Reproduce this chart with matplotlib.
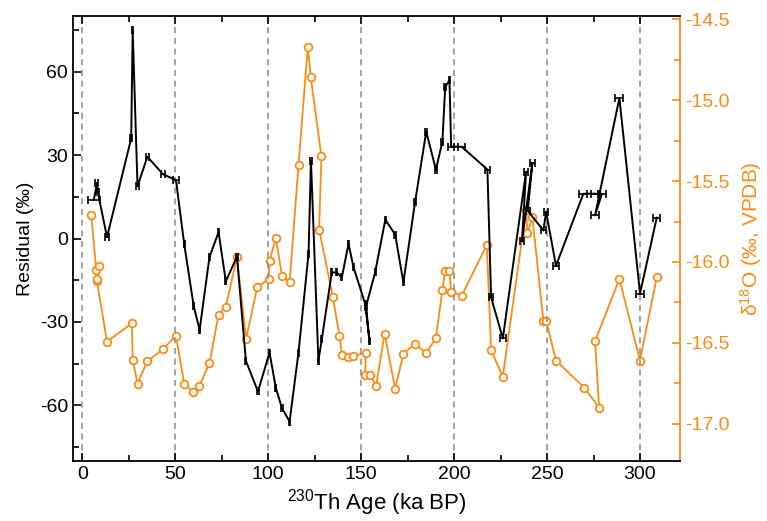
import matplotlib
matplotlib.use("Agg")
import matplotlib.pyplot as plt
from matplotlib.ticker import MultipleLocator

plt.rcParams['font.family'] = ['Liberation Sans', 'DejaVu Sans']
plt.rcParams['mathtext.default'] = 'regular'
plt.rcParams['axes.unicode_minus'] = False

# residual record (black), age in ka BP, residual in permil, age error
res_age = [6.2, 7.9, 8.3, 13.3, 26.3, 27.1, 29.7, 35.0, 43.4, 50.4,
           54.8, 59.9, 63.1, 68.4, 73.3, 77.2, 83.2, 88.0, 94.5, 100.7,
           104.1, 107.4, 111.5, 116.3, 121.7, 123.0, 127.0, 128.8, 134.2, 136.9,
           139.6, 143.2, 145.9, 152.2, 154.5, 152.6, 157.5, 163.0, 168.3, 172.7,
           179.0, 185.0, 190.2, 193.7, 195.2, 197.5, 198.4, 204.1, 217.9, 219.9,
           226.2, 238.7, 236.5, 242.1, 239.6, 248.0, 249.5, 254.8, 269.5, 275.8,
           279.5, 275.8, 288.9, 300.0, 309.0]
res_val = [14.0, 19.8, 16.8, 0.5, 36.0, 75.0, 18.8, 29.4, 23.1, 21.0,
           -1.9, -24.2, -32.9, -6.7, 2.3, -15.4, -6.5, -44.0, -55.0, -41.0,
           -53.7, -61.0, -65.8, -41.0, -5.5, 28.0, -44.0, -36.3, -12.2, -12.2,
           -14.0, -1.9, -10.4, -23.6, -36.9, -24.5, -12.2, 6.8, 1.4, -15.8,
           13.1, 38.4, 24.8, 34.8, 54.5, 56.9, 33.0, 33.0, 24.8, -21.2,
           -35.9, 24.0, -1.0, 27.2, 10.0, 2.9, 9.5, -9.8, 16.1, 16.1,
           16.1, 8.3, 50.5, -19.8, 7.5]
res_err = [3.2, 0.8, 0.8, 1.0, 0.4, 0.4, 1.0, 1.0, 1.0, 1.5,
           0.3, 0.3, 0.3, 0.3, 0.3, 0.3, 0.3, 0.3, 0.3, 0.3,
           0.3, 0.3, 0.3, 0.3, 0.3, 0.3, 0.3, 0.3, 0.3, 0.3,
           0.3, 0.3, 0.3, 0.3, 0.3, 0.3, 0.3, 0.4, 0.4, 0.4,
           0.4, 0.5, 0.5, 0.5, 0.5, 0.5, 1.5, 2.0, 1.2, 1.2,
           1.5, 1.2, 1.0, 1.2, 1.0, 1.2, 1.2, 1.5, 2.2, 2.2,
           2.2, 2.0, 2.2, 2.0, 2.0]

# d18O record (orange)
d18_age = [4.8, 7.5, 9.1, 7.9, 7.7, 13.3, 26.7, 27.1, 29.7, 34.9,
           43.4, 50.4, 54.8, 59.8, 63.0, 68.4, 73.3, 77.2, 83.2, 88.1,
           94.1, 100.2, 100.7, 104.1, 107.4, 111.5, 116.3, 121.3, 122.9, 128.6,
           127.4, 134.8, 138.3, 139.6, 142.8, 145.5, 152.4, 152.2, 154.5, 158.1,
           162.6, 168.3, 172.7, 178.7, 185.0, 190.2, 193.7, 195.2, 197.5, 198.4,
           204.1, 217.6, 219.9, 226.2, 238.7, 239.4, 242.1, 248.0, 249.5, 254.8,
           270.1, 278.0, 275.8, 288.9, 300.0, 309.0]
d18_val = [-15.708, -16.049, -16.023, -16.115, -16.105, -16.492, -16.379, -16.603, -16.753, -16.614,
           -16.539, -16.455, -16.753, -16.805, -16.764, -16.626, -16.325, -16.276, -15.971, -16.475,
           -16.157, -16.105, -15.996, -15.852, -16.084, -16.126, -15.401, -14.670, -14.859, -15.347,
           -15.800, -16.218, -16.455, -16.572, -16.589, -16.580, -16.564, -16.696, -16.696, -16.764,
           -16.444, -16.784, -16.568, -16.506, -16.564, -16.469, -16.171, -16.053, -16.053, -16.183,
           -16.208, -15.895, -16.547, -16.708, -15.678, -15.823, -15.724, -16.362, -16.362, -16.609,
           -16.778, -16.900, -16.490, -16.105, -16.609, -16.095]

orange = '#FF8A14'

fig = plt.figure(figsize=(7.67, 5.21), dpi=100)
ax = fig.add_axes([73 / 767, 1 - 461 / 521, 607 / 767, 445 / 521])
ax2 = ax.twinx()

ax.errorbar(res_age, res_val, xerr=res_err, color='black', lw=1.4,
            elinewidth=1.2, capsize=2.6, capthick=1.2, zorder=3)
ax2.plot(d18_age, d18_val, color=orange, lw=1.3, marker='o', ms=5.5,
         mfc='white', mec=orange, mew=1.3)

ax.set_zorder(ax2.get_zorder() + 1)
ax.patch.set_visible(False)

ax.set_xlim(-5, 321.5)
ax.set_ylim(-80, 80)
ax2.set_ylim(-17.23, -14.48)

ax.xaxis.set_major_locator(MultipleLocator(50))
ax.xaxis.set_minor_locator(MultipleLocator(25))
ax.yaxis.set_major_locator(MultipleLocator(30))
ax.yaxis.set_minor_locator(MultipleLocator(15))
ax2.yaxis.set_major_locator(MultipleLocator(0.5))
ax2.yaxis.set_minor_locator(MultipleLocator(0.25))

ax.grid(axis='x', color='#8a8a8a', ls=(0, (4, 3)), lw=1.1)

ax.tick_params(which='both', direction='in', top=True, width=1.2, labelsize=14)
ax.tick_params(which='major', length=6)
ax.tick_params(which='minor', length=4)
ax2.tick_params(which='both', direction='in', colors=orange, width=1.2, labelsize=14)
ax2.tick_params(which='major', length=6)
ax2.tick_params(which='minor', length=4)

for s in ['left', 'bottom', 'top']:
    ax.spines[s].set_linewidth(1.3)
ax.spines['right'].set_visible(False)
ax2.spines['right'].set_color(orange)
ax2.spines['right'].set_linewidth(1.3)
for s in ['left', 'bottom', 'top']:
    ax2.spines[s].set_visible(False)

ax.set_ylabel('Residual (‰)', fontsize=14, labelpad=4)
ax.set_xlabel(r'$^{230}$Th Age (ka BP)', fontsize=16, labelpad=3)
ax2.set_ylabel(r'δ$^{18}$O (‰, VPDB)', fontsize=15, color=orange, labelpad=6)

fig.savefig('out.png', dpi=100)
